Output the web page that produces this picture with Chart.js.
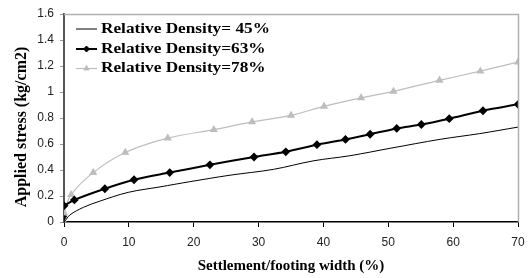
<!DOCTYPE html>
<html>
<head>
<meta charset="utf-8">
<script src="https://cdn.jsdelivr.net/npm/chart.js@4.4.1/dist/chart.umd.min.js"></script>
<style>
  html, body { margin: 0; padding: 0; background: #fff; }
  #wrap { width: 528px; height: 278px; }
</style>
</head>
<body>
<div id="wrap"><canvas id="stressChart"></canvas></div>
<script>
// settlement / footing width (%) and applied stress (kg/cm2)
const x45 = [0, 0, 0.9, 3.0, 5.5, 9.9, 14.8, 19.4, 25.6, 32.3, 38.4, 44.1, 50.3, 58.0, 64.1, 70];
const y45 = [0.035, 0, 0.054, 0.113, 0.16, 0.228, 0.27, 0.31, 0.36, 0.405, 0.47, 0.51, 0.567, 0.636, 0.68, 0.73];

const x63 = [0, 1.6, 6.3, 10.8, 16.3, 22.5, 29.3, 34.2, 39.0, 43.4, 47.2, 51.3, 55.1, 59.4, 64.6, 70];
const y63 = [0.125, 0.17, 0.256, 0.325, 0.38, 0.44, 0.50, 0.54, 0.595, 0.635, 0.675, 0.72, 0.75, 0.795, 0.856, 0.905];

const x78 = [0, 0, 1.1, 4.5, 9.45, 16.0, 23.1, 29.0, 35.0, 40.1, 45.8, 50.8, 57.9, 64.2, 70];
const y78 = [0, 0.07, 0.21, 0.38, 0.535, 0.645, 0.71, 0.77, 0.82, 0.89, 0.955, 1.005, 1.09, 1.16, 1.23];

const seriesLabels = ['Relative Density= 45%', 'Relative Density=63%', 'Relative Density=78%'];
const xTitle = 'Settlement/footing width (%)';
const yTitle = 'Applied stress (kg/cm2)';

const toPoints = (xs, ys) => xs.map((x, i) => ({x: x, y: ys[i]}));

const grey = '#bdbdbd';
const serif = '"Liberation Serif", "Times New Roman", serif';

// frame, axis titles and the legend inside the plot (line + marker like the original)
const decorations = {
    id: 'decorations',
    afterDraw(chart) {
        const ctx = chart.ctx;
        const area = chart.chartArea;
        ctx.save();
        ctx.strokeStyle = '#b0b0b0';
        ctx.lineWidth = 1.5;
        ctx.beginPath();
        ctx.moveTo(area.left, area.top + 0.5);
        ctx.lineTo(area.right + 0.5, area.top + 0.5);
        ctx.lineTo(area.right + 0.5, area.bottom);
        ctx.stroke();

        // axis titles
        ctx.fillStyle = '#000';
        ctx.textAlign = 'center';
        ctx.textBaseline = 'middle';
        ctx.font = 'bold 15px ' + serif;
        ctx.fillText(xTitle, (area.left + area.right) / 2, 266);
        ctx.save();
        ctx.translate(22, 127);
        ctx.rotate(-Math.PI / 2);
        ctx.font = 'bold 16px ' + serif;
        ctx.fillText(yTitle, 0, 0);
        ctx.restore();

        // legend
        const rows = [29, 49, 68.5];
        ctx.textAlign = 'left';
        ctx.font = 'bold 15px ' + serif;
        chart.data.datasets.forEach((ds, i) => {
            const y = rows[i];
            ctx.strokeStyle = ds.borderColor;
            ctx.lineWidth = ds.borderWidth;
            ctx.beginPath();
            ctx.moveTo(76, y);
            ctx.lineTo(97, y);
            ctx.stroke();
            if (ds.legendMarker) {
                ctx.fillStyle = ds.pointBackgroundColor;
                ctx.strokeStyle = ds.pointBorderColor;
                ctx.lineWidth = 1;
                Chart.helpers.drawPoint(ctx, {
                    pointStyle: ds.pointStyle,
                    radius: 3,
                    rotation: 0,
                    borderWidth: 1
                }, 86.5, y);
            }
            ctx.fillStyle = '#000';
            ctx.save();
            ctx.translate(101, y);
            ctx.scale(1.15, 1);
            ctx.fillText(ds.label, 0, 0);
            ctx.restore();
        });
        ctx.restore();
    }
};

new Chart(document.getElementById('stressChart'), {
    type: 'scatter',
    data: {
        datasets: [{
            label: seriesLabels[0],
            data: toPoints(x45, y45),
            showLine: true,
            borderColor: '#000',
            borderWidth: 1,
            tension: 0.35,
            pointStyle: 'triangle',
            rotation: 180,
            pointRadius: x45.map((v, i) => i === 0 ? 3 : 0),
            pointBackgroundColor: '#000',
            pointBorderColor: '#000',
            legendMarker: false
        }, {
            label: seriesLabels[1],
            data: toPoints(x63, y63),
            showLine: true,
            borderColor: '#000',
            borderWidth: 2,
            tension: 0.3,
            pointStyle: 'rectRot',
            pointRadius: 3,
            pointBackgroundColor: '#000',
            pointBorderColor: '#000',
            legendMarker: true
        }, {
            label: seriesLabels[2],
            data: toPoints(x78, y78),
            showLine: true,
            borderColor: grey,
            borderWidth: 1.2,
            tension: 0.3,
            pointStyle: 'triangle',
            pointRadius: 3.5,
            pointBackgroundColor: grey,
            pointBorderColor: grey,
            legendMarker: true
        }]
    },
    options: {
        responsive: true,
        maintainAspectRatio: false,
        animation: false,
        layout: { padding: { top: 14, right: 10, left: 0, bottom: 0 } },
        plugins: {
            legend: { display: false },
            tooltip: { enabled: false }
        },
        scales: {
            x: {
                type: 'linear',
                min: 0,
                max: 70,
                afterFit(scale) {
                    scale.height = 56;
                    scale.paddingRight = 0;
                },
                ticks: {
                    stepSize: 10,
                    color: '#222',
                    padding: 8,
                    font: { family: '"Liberation Sans", Arial, sans-serif', size: 12 }
                },
                grid: {
                    drawOnChartArea: false,
                    drawTicks: true,
                    tickLength: 5,
                    color: '#000'
                },
                border: { color: '#000', width: 1.5 }
            },
            y: {
                min: 0,
                max: 1.6,
                afterFit(scale) { scale.width = 64; },
                ticks: {
                    stepSize: 0.2,
                    color: '#222',
                    padding: 6,
                    callback: v => String(Math.round(v * 10) / 10),
                    font: { family: '"Liberation Sans", Arial, sans-serif', size: 12 }
                },
                grid: {
                    drawOnChartArea: false,
                    drawTicks: true,
                    tickLength: 4,
                    color: '#999'
                },
                border: { color: '#555', width: 2 }
            }
        }
    },
    plugins: [decorations]
});
</script>
</body>
</html>
